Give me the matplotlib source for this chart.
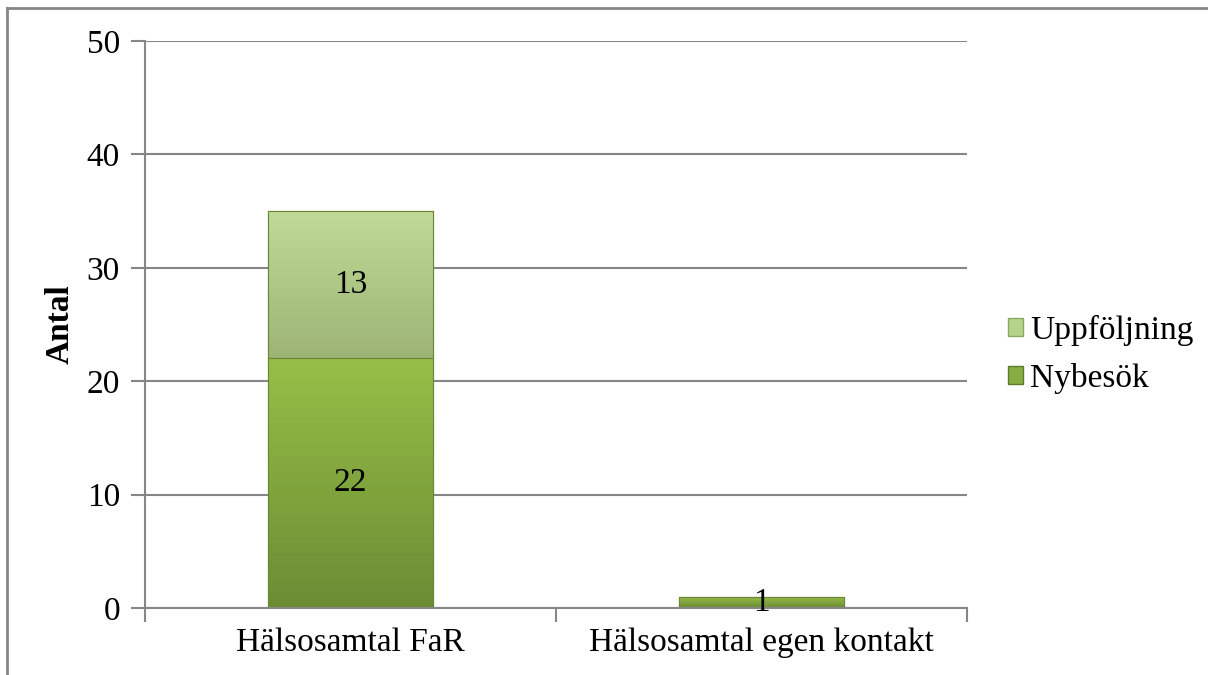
import numpy as np
import matplotlib
matplotlib.use("Agg")
import matplotlib.pyplot as plt
from matplotlib.lines import Line2D
from matplotlib.patches import Patch

# Data
categories = ["Hälsosamtal FaR", "Hälsosamtal egen kontakt"]
nybesok = [22, 1]
uppfoljning = [13, 0]
series_names = ["Nybesök", "Uppföljning"]

plt.rcParams['font.family'] = ['Liberation Serif', 'DejaVu Serif']
fs = 24

fig = plt.figure(figsize=(12.08, 6.75), dpi=100)
ax = fig.add_axes([0.120, 0.0993, 0.6805, 0.84])

gray = "#868686"
x = np.arange(len(categories))
width = 0.4

# colours (top, bottom) for the vertical gradient
col_ny = ("#97bf47", "#6c8c34")
col_up = ("#bfdb96", "#9db476")


def grad_bar(xc, bottom, height, cols):
    if height <= 0:
        return
    bars = ax.bar(xc, height, width, bottom=bottom, color=cols[0],
                  edgecolor="#5f7a2e", linewidth=0.8, zorder=2)
    patch = bars[0]
    c1 = np.array(matplotlib.colors.to_rgb(cols[0]))
    c2 = np.array(matplotlib.colors.to_rgb(cols[1]))
    t = np.linspace(0, 1, 100)[:, None]
    img = (c1 * (1 - t) + c2 * t)[:, None, :]
    im = ax.imshow(img, extent=[xc - width / 2, xc + width / 2, bottom, bottom + height],
                   aspect="auto", origin="upper", zorder=2.5, interpolation="bilinear")
    im.set_clip_path(patch)
    # thin outline on top of the gradient
    ax.bar(xc, height, width, bottom=bottom, fill=False,
           edgecolor="#6a8535", linewidth=0.8, zorder=2.6)


for i in range(len(categories)):
    grad_bar(x[i], 0, nybesok[i], col_ny)
    grad_bar(x[i], nybesok[i], uppfoljning[i], col_up)
    ax.text(x[i], nybesok[i] / 2, str(nybesok[i]), ha="center", va="center",
            fontsize=fs, zorder=4)
    if uppfoljning[i] > 0:
        ax.text(x[i], nybesok[i] + uppfoljning[i] / 2, str(uppfoljning[i]),
                ha="center", va="center", fontsize=fs, zorder=4)

ax.set_xlim(-0.5, len(categories) - 0.5)
ax.set_ylim(0, 50)
ax.set_yticks(range(0, 51, 10))
ax.set_xticks(x)
ax.set_xticklabels(categories, fontsize=fs)
ax.set_xticks(np.arange(-0.5, len(categories), 1), minor=True)
ax.tick_params(axis="x", which="major", length=0, pad=14)
ax.tick_params(axis="x", which="minor", length=10, width=1.5, color=gray)
ax.tick_params(axis="y", labelsize=fs, length=10, width=1.5, color=gray, pad=8)
ax.yaxis.grid(True, color=gray, linewidth=1.5, zorder=0)
ax.set_axisbelow(True)
for s in ["top", "right"]:
    ax.spines[s].set_visible(False)
for s in ["left", "bottom"]:
    ax.spines[s].set_color(gray)
    ax.spines[s].set_linewidth(1.5)
ax.spines["bottom"].set_zorder(3)

ax.set_ylabel("Antal", fontsize=fs, fontweight="bold", labelpad=8)

handles = [Patch(facecolor="#b5d38a", edgecolor="#8ca862"),
           Patch(facecolor="#86ad3f", edgecolor="#5f7a2e")]
fig.legend(handles, ["Uppföljning", "Nybesök"], loc="center left",
           bbox_to_anchor=(0.81, 0.475), frameon=False, fontsize=fs,
           handlelength=0.45, handleheight=0.45, handletextpad=0.2,
           labelspacing=0.5)

# outer chart frame
fig.add_artist(Line2D([0.0058, 1.0], [0.9875, 0.9875], color=gray, linewidth=2,
                      transform=fig.transFigure))
fig.add_artist(Line2D([0.0058, 0.0058], [0.0, 0.9875], color=gray, linewidth=2,
                      transform=fig.transFigure))

fig.savefig("out.png", dpi=100)
